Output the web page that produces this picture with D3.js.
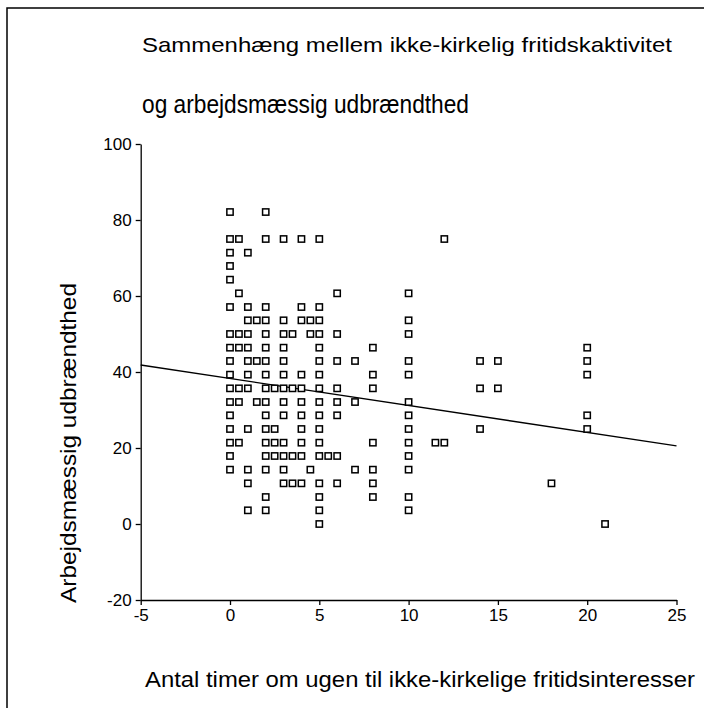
<!DOCTYPE html>
<html>
<head>
<meta charset="utf-8">
<script src="https://cdn.jsdelivr.net/npm/d3@7/dist/d3.min.js"></script>
<style>
  html, body { margin: 0; padding: 0; background: #fff; }
  svg { display: block; }
  text { font-family: "Liberation Sans", Arial, sans-serif; fill: #000; }
</style>
</head>
<body>
<script>
// ---- data ----
const titleLine1 = "Sammenhæng mellem ikke-kirkelig fritidskaktivitet";
const titleLine2 = "og arbejdsmæssig udbrændthed";
const xAxisTitle = "Antal timer om ugen til ikke-kirkelige fritidsinteresser";
const yAxisTitle = "Arbejdsmæssig udbrændthed";
const xTicks = [-5, 0, 5, 10, 15, 20, 25];
const yTicks = [-20, 0, 20, 40, 60, 80, 100];

// hours per week (x) and burnout score (y), one entry per visible marker
const hours = [
  0, 2,
  0, 0.5, 2, 3, 4, 5, 12,
  0, 1,
  0,
  0,
  0.5, 6, 10,
  0, 1, 2, 4, 5,
  1, 1.5, 2, 3, 4, 4.5, 5, 10,
  0, 0.5, 1, 2, 3, 3.5, 4.5, 5, 6, 10,
  0, 0.5, 1, 2, 3, 5, 8, 20,
  0, 1, 1.5, 2, 3, 5, 6, 7, 10, 14, 15, 20,
  0, 1, 2, 3, 4, 5, 8, 10, 20,
  0, 0.5, 1, 2, 2.5, 3, 3.5, 4, 5, 6, 8, 14, 15,
  0, 0.5, 1.5, 2, 3, 4, 5, 6, 7, 10,
  0, 2, 3, 4, 5, 6, 10, 20,
  0, 1, 2, 2.5, 4, 5, 10, 14, 20,
  0, 0.5, 2, 2.5, 3, 4, 5, 8, 10, 11.5, 12,
  0, 2, 2.5, 3, 3.5, 4, 5, 5.5, 6, 10,
  0, 1, 2, 3, 4.5, 7, 8, 10,
  1, 3, 3.5, 4, 5, 6, 8, 18,
  2, 5, 8, 10,
  1, 2, 5, 10,
  5, 21
];
const burnout = [
  82.1, 82.1,
  75, 75, 75, 75, 75, 75, 75,
  71.4, 71.4,
  67.9,
  64.3,
  60.7, 60.7, 60.7,
  57.1, 57.1, 57.1, 57.1, 57.1,
  53.6, 53.6, 53.6, 53.6, 53.6, 53.6, 53.6, 53.6,
  50, 50, 50, 50, 50, 50, 50, 50, 50, 50,
  46.4, 46.4, 46.4, 46.4, 46.4, 46.4, 46.4, 46.4,
  42.9, 42.9, 42.9, 42.9, 42.9, 42.9, 42.9, 42.9, 42.9, 42.9, 42.9, 42.9,
  39.3, 39.3, 39.3, 39.3, 39.3, 39.3, 39.3, 39.3, 39.3,
  35.7, 35.7, 35.7, 35.7, 35.7, 35.7, 35.7, 35.7, 35.7, 35.7, 35.7, 35.7, 35.7,
  32.1, 32.1, 32.1, 32.1, 32.1, 32.1, 32.1, 32.1, 32.1, 32.1,
  28.6, 28.6, 28.6, 28.6, 28.6, 28.6, 28.6, 28.6,
  25, 25, 25, 25, 25, 25, 25, 25, 25,
  21.4, 21.4, 21.4, 21.4, 21.4, 21.4, 21.4, 21.4, 21.4, 21.4, 21.4,
  17.9, 17.9, 17.9, 17.9, 17.9, 17.9, 17.9, 17.9, 17.9, 17.9,
  14.3, 14.3, 14.3, 14.3, 14.3, 14.3, 14.3, 14.3,
  10.7, 10.7, 10.7, 10.7, 10.7, 10.7, 10.7, 10.7,
  7.1, 7.1, 7.1, 7.1,
  3.6, 3.6, 3.6, 3.6,
  0, 0
];
// linear fit line (intercept, slope)
const fitIntercept = 38.3;
const fitSlope = -0.71;

// ---- layout ----
const W = 704, H = 708;
const plot = { left: 140.7, right: 676.5, top: 144, bottom: 600 };

const svg = d3.select("body").append("svg").attr("width", W).attr("height", H);

// outer frame (only top and left edges visible)
svg.append("path")
  .attr("d", `M7,${H} V8 H${W}`)
  .attr("fill", "none").attr("stroke", "#000").attr("stroke-width", 1.5);

const x = d3.scaleLinear().domain([d3.min(xTicks), d3.max(xTicks)]).range([plot.left, plot.right]);
const y = d3.scaleLinear().domain([d3.min(yTicks), d3.max(yTicks)]).range([plot.bottom, plot.top]);

// axes
const fmt = d => String(d);
const xAxis = svg.append("g").attr("transform", `translate(0,${plot.bottom})`)
  .call(d3.axisBottom(x).tickValues(xTicks).tickFormat(fmt).tickSize(5).tickPadding(4).tickSizeOuter(0));
const yAxis = svg.append("g").attr("transform", `translate(${plot.left},0)`)
  .call(d3.axisLeft(y).tickValues(yTicks).tickFormat(fmt).tickSize(5).tickPadding(4).tickSizeOuter(0));
[xAxis, yAxis].forEach(g => {
  g.selectAll("path.domain").attr("stroke", "#000").attr("stroke-width", 1.3);
  g.selectAll(".tick line").attr("stroke", "#000").attr("stroke-width", 1.3);
  g.selectAll(".tick text").style("font-family", '"Liberation Sans", Arial, sans-serif')
    .style("font-size", "17px").attr("fill", "#000");
});

// fit line
const fitX = x.domain();
svg.append("line")
  .attr("x1", x(fitX[0])).attr("y1", y(fitIntercept + fitSlope * fitX[0]))
  .attr("x2", x(fitX[1])).attr("y2", y(fitIntercept + fitSlope * fitX[1]))
  .attr("stroke", "#000").attr("stroke-width", 1.4);

// markers
const pts = hours.map((h, i) => ({ h, b: burnout[i] }));
const ms = 6.3;
svg.append("g").selectAll("rect").data(pts).join("rect")
  .attr("x", d => x(d.h) - ms / 2)
  .attr("y", d => y(d.b) - ms / 2)
  .attr("width", ms).attr("height", ms)
  .attr("fill", "#fff").attr("stroke", "#000").attr("stroke-width", 1.5);

// titles
svg.append("text").attr("x", 142).attr("y", 52)
  .attr("textLength", 530).attr("lengthAdjust", "spacingAndGlyphs")
  .style("font-size", "21px").text(titleLine1);
svg.append("text").attr("x", 142).attr("y", 113)
  .attr("textLength", 327).attr("lengthAdjust", "spacingAndGlyphs")
  .style("font-size", "25px").text(titleLine2);

// axis titles
svg.append("text").attr("x", 145).attr("y", 687)
  .attr("textLength", 550).attr("lengthAdjust", "spacingAndGlyphs")
  .style("font-size", "22px").text(xAxisTitle);
svg.append("text")
  .attr("transform", "translate(76,603) rotate(-90)")
  .attr("textLength", 320).attr("lengthAdjust", "spacingAndGlyphs")
  .style("font-size", "22px").text(yAxisTitle);
</script>
</body>
</html>
